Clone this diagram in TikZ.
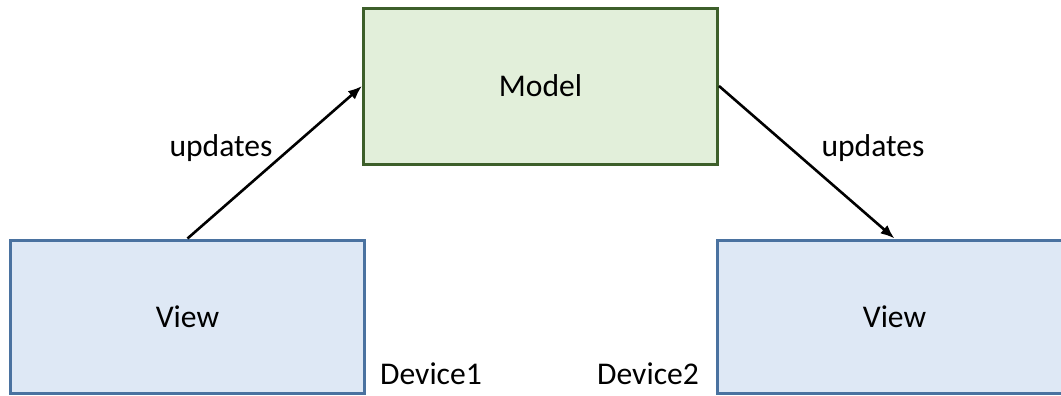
\documentclass[tikz,border=0pt]{standalone}
\usepackage{fontspec}
\setmainfont{Carlito}
\usepackage{tikz}
\usetikzlibrary{arrows,arrows.meta,shapes}
\definecolor{modelfill}{HTML}{E2EFDA}
\definecolor{modeldraw}{HTML}{3D5F2A}
\definecolor{viewfill}{HTML}{DEE8F5}
\definecolor{viewdraw}{HTML}{4A72A0}
\tikzstyle{box}=[rectangle, draw
,line width=1.5pt
,minimum width=177pt
,inner sep=0pt
,font=\fontsize{15.8}{19}\selectfont
]
\tikzstyle{model box} = [box, fill=modelfill, draw=modeldraw, minimum height=78pt]
\tikzstyle{view box} = [box, fill=viewfill, draw=viewdraw, minimum height=76.5pt]
\tikzstyle{label} = [inner sep=0pt, font=\fontsize{15.8}{19}\selectfont]
\tikzstyle{edge} = [draw,line width=1.3pt,-{Latex[length=7pt,width=5.5pt]}]

\begin{document}
\begin{tikzpicture}[x=0.5pt,y=-0.5pt]
    \useasboundingbox (0,0) rectangle (1061,396);
    \clip (0,0) rectangle (1061,396);
    % the boxes
    \node[model box] (Model) at (540.5,86) {Model};
    \foreach \pos/\name in {{(187.5,316.5)/View_1}, {(894.5,316.5)/View_2}}
        \node[view box] (\name) at \pos {View};

    % device names
    \foreach \pos/\name/\txt in {{(431,374)/Dev_1/Device1}, {(648,374)/Dev_2/Device2}}
        \node[label] (\name) at \pos {\txt};

    % update arrows
    \path[edge] (View_1.north) -- (Model.west);
    \path[edge] (Model.east) -- (View_2.north);
    \node[label] (Up_1) at (221,148) {updates};
    \node[label] (Up_2) at (873,148) {updates};
\end{tikzpicture}
\end{document}
